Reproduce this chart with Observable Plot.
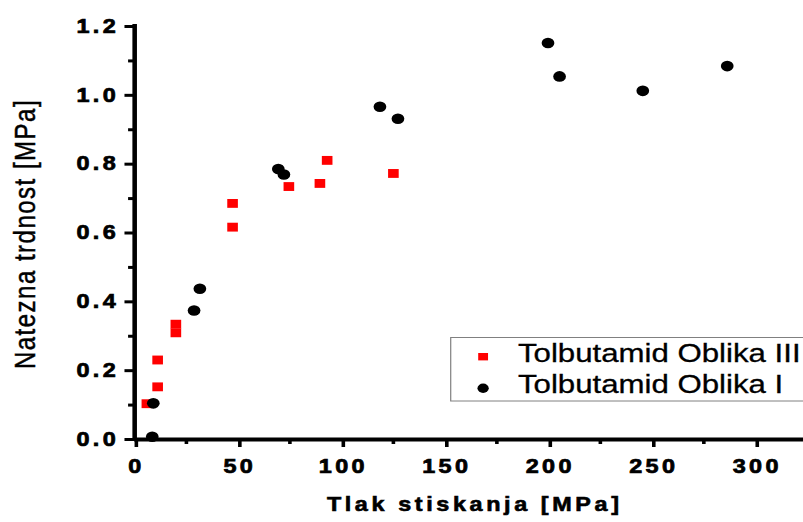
<!DOCTYPE html>
<html>
<head>
<meta charset="utf-8">
<script src="https://cdn.jsdelivr.net/npm/d3@7"></script>
<script src="https://cdn.jsdelivr.net/npm/@observablehq/plot@0.6"></script>
<style>
  html, body { margin: 0; padding: 0; background: #fff; overflow: hidden; }
  #wrap { width: 669px; height: 522px; transform: scaleX(1.2003); transform-origin: 0 0; }
  #wrap svg { overflow: hidden; font-family: "Liberation Sans", Arial, sans-serif; }
  #wrap svg g[aria-label$="tick label"] text { font-weight: bold; font-size: 19.5px; letter-spacing: 2.8px; fill: #000; stroke: #000; stroke-width: 0.7px; }
</style>
</head>
<body>
<div id="wrap"></div>
<script>
// ---- data ----
const seriesNames = ["Tolbutamid Oblika III", "Tolbutamid Oblika I"];

// Tolbutamid Oblika III (red squares)
const pressureIII = [5.9, 11.1, 11.1, 19.9, 19.9, 47.3, 47.3, 74.5, 89.5, 93.0, 125.0];
const strengthIII = [0.104, 0.153, 0.231, 0.310, 0.335, 0.617, 0.686, 0.735, 0.744, 0.811, 0.773];

// Tolbutamid Oblika I (black circles)
const pressureI = [8.5, 9.0, 28.7, 31.5, 69.4, 72.1, 118.5, 127.2, 199.7, 205.3, 245.5, 286.3];
const strengthI = [0.008, 0.105, 0.375, 0.438, 0.786, 0.770, 0.967, 0.932, 1.152, 1.055, 1.013, 1.085];

const xMajorTicks = [0, 50, 100, 150, 200, 250, 300];
const xMinorTicks = [25, 75, 125, 175, 225, 275];
const yMajorTicks = [0.0, 0.2, 0.4, 0.6, 0.8, 1.0, 1.2];
const yMinorTicks = [0.1, 0.3, 0.5, 0.7, 0.9, 1.1];

const xTitle = "Tlak stiskanja [MPa]";
const yTitle = "Natezna trdnost [MPa]";

// ---- build tables ----
const dataIII = pressureIII.map((x, i) => ({x, y: strengthIII[i]}));
const dataI = pressureI.map((x, i) => ({x, y: strengthI[i]}));

const W = 669, H = 522;
const chart = Plot.plot({
  width: W,
  height: H,
  marginLeft: 111.7,
  marginRight: 0,
  marginTop: 26,
  marginBottom: 83,
  x: {domain: [0, 323.2]},
  y: {domain: [0, 1.2]},
  marks: [
    Plot.dot(dataIII, {x: "x", y: "y", symbol: "square", r: 5, fill: "#ff0000", stroke: "none"}),
    Plot.dot(dataI, {x: "x", y: "y", r: 5.3, fill: "#000", stroke: "none"}),
    Plot.ruleY([0], {stroke: "#000", strokeWidth: 3.8}),
    Plot.ruleX([0], {stroke: "#000", strokeWidth: 3.8, strokeLinecap: "square"}),
    Plot.axisX({ticks: xMajorTicks, tickSize: 8, tickPadding: 12, strokeWidth: 3, tickFormat: d => String(d), dx: 1.4, label: null}),
    Plot.axisX({ticks: xMinorTicks, tickSize: 5, strokeWidth: 3, tickFormat: () => "", label: null}),
    Plot.axisY({ticks: yMajorTicks, tickSize: 8, tickPadding: 5, strokeWidth: 3, tickFormat: d3.format(".1f"), label: null}),
    Plot.axisY({ticks: yMinorTicks, tickSize: 5, strokeWidth: 3, tickFormat: () => "", label: null})
  ]
});

document.getElementById("wrap").appendChild(chart);

const svg = d3.select(chart);

// axis titles
svg.append("text")
  .attr("x", 395.5).attr("y", 511.5)
  .attr("text-anchor", "middle")
  .style("font-family", "'Liberation Sans', Arial, sans-serif")
  .style("font-weight", "bold").style("font-size", "19.5px").style("letter-spacing", "3px")
  .style("stroke", "#000").style("stroke-width", "0.6px")
  .attr("fill", "#000")
  .text(xTitle);

svg.append("text")
  .attr("transform", "translate(29,234) rotate(-90)")
  .attr("text-anchor", "middle")
  .style("font-family", "'Liberation Sans', Arial, sans-serif")
  .style("font-size", "24px").style("letter-spacing", "1.5px")
  .style("stroke", "#000").style("stroke-width", "0.4px")
  .attr("fill", "#000")
  .text(yTitle);

// legend
const lg = svg.append("g");
lg.append("rect")
  .attr("x", 375.5).attr("y", 337.5).attr("width", 330).attr("height", 63.5)
  .attr("fill", "#fff").attr("stroke", "#808080").attr("stroke-width", 1);
const rows = [
  {name: seriesNames[0], color: "#ff0000", shape: "square", cy: 356.7, base: 361.7},
  {name: seriesNames[1], color: "#000", shape: "circle", cy: 388.2, base: 393.3}
];
rows.forEach(r => {
  if (r.shape === "square") {
    lg.append("rect").attr("x", 402.5 - 4.1).attr("y", r.cy - 3.7).attr("width", 8.2).attr("height", 7.4).attr("fill", r.color);
  } else {
    lg.append("circle").attr("cx", 402.5).attr("cy", r.cy).attr("r", 4.7).attr("fill", r.color);
  }
  lg.append("text")
    .attr("x", 431.5).attr("y", r.base)
    .attr("text-anchor", "start")
    .style("font-family", "'Liberation Sans', Arial, sans-serif")
    .style("font-size", "26px")
    .style("stroke", "#000").style("stroke-width", "0.3px")
    .attr("fill", "#000")
    .text(r.name);
});
</script>
</body>
</html>
